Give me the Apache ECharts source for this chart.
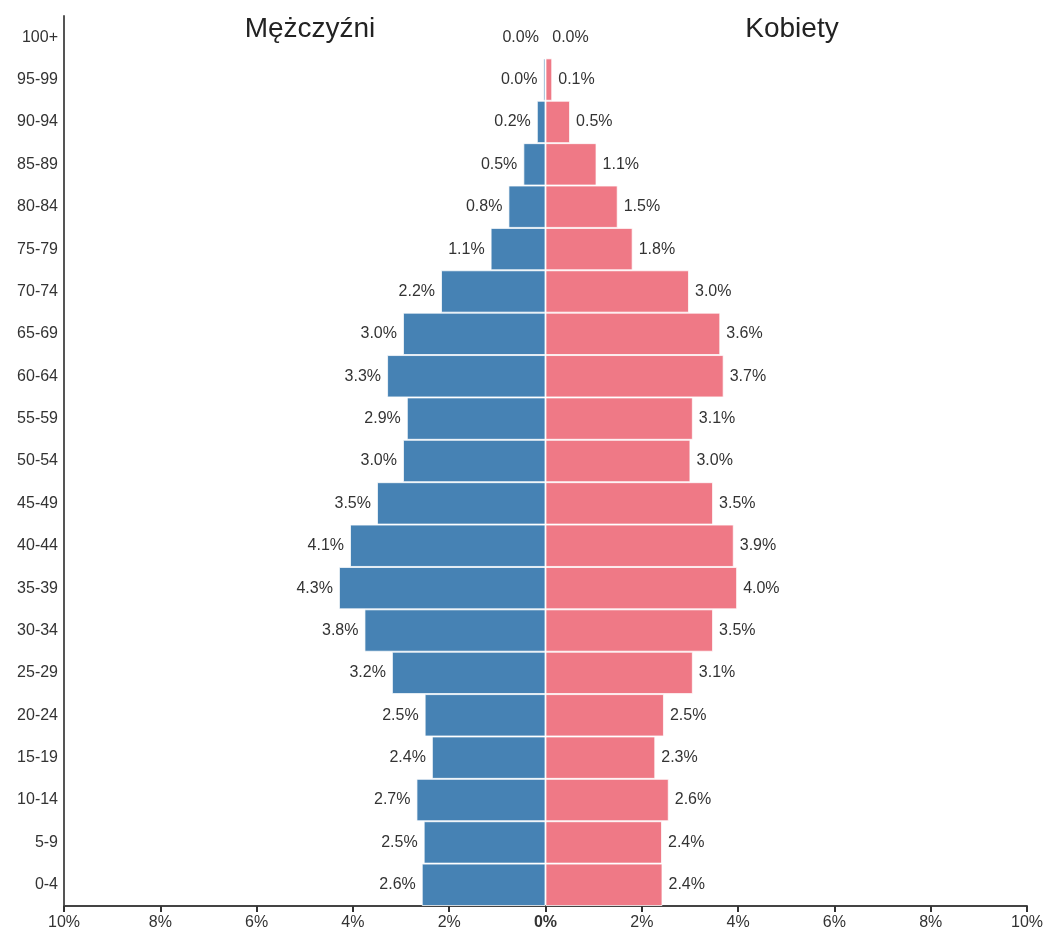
<!DOCTYPE html>
<html>
<head>
<meta charset="utf-8">
<script src="https://cdn.jsdelivr.net/npm/echarts@6/dist/echarts.min.js"></script>
<style>html,body{margin:0;padding:0;background:#fff}#c{width:1046px;height:934px}</style>
</head>
<body>
<div id="c"></div>
<script>
var categories = ['0-4','5-9','10-14','15-19','20-24','25-29','30-34','35-39','40-44','45-49','50-54','55-59','60-64','65-69','70-74','75-79','80-84','85-89','90-94','95-99','100+'];
var male = [2.57,2.53,2.68,2.36,2.51,3.19,3.76,4.29,4.06,3.50,2.96,2.88,3.29,2.96,2.17,1.14,0.77,0.46,0.18,0.044,0.004];
var female = [2.43,2.42,2.56,2.28,2.46,3.06,3.48,3.98,3.91,3.48,3.01,3.06,3.70,3.63,2.98,1.81,1.50,1.06,0.51,0.14,0.01];
var xTicks = [-10,-8,-6,-4,-2,0,2,4,6,8,10];
var titles = ['Mężczyźni','Kobiety'];

var FONT = 'Liberation Sans, Arial, sans-serif';
var chart = echarts.init(document.getElementById('c'), null, {renderer:'canvas'});
function fmt(v){ return Math.abs(v).toFixed(1) + '%'; }
chart.setOption({
  animation: false,
  textStyle: {fontFamily: FONT},
  title: [
    {text: titles[0], left: 305, top: 10, textAlign: 'center', textStyle:{fontFamily:FONT, fontSize:28, fontWeight:'normal', color:'#222'}},
    {text: titles[1], left: 787, top: 10, textAlign: 'center', textStyle:{fontFamily:FONT, fontSize:28, fontWeight:'normal', color:'#222'}}
  ],
  grid: {left: 64, right: 18, top: 16, bottom: 28, containLabel: false},
  xAxis: {
    type: 'value', min: xTicks[0], max: xTicks[xTicks.length-1], interval: 2,
    axisLine: {show: true, lineStyle: {color: '#444', width: 2}},
    axisTick: {show: true, length: 6, lineStyle: {color: '#333', width: 2}},
    splitLine: {show: false},
    axisLabel: {
      color: '#333', fontSize: 16, margin: 9, fontFamily: FONT,
      formatter: function(v){ return v === 0 ? '{b|0%}' : Math.abs(v) + '%'; },
      rich: {b: {fontWeight: 'bold', fontSize: 16, color: '#333', fontFamily: FONT}}
    }
  },
  yAxis: {
    type: 'category', data: categories,
    axisLine: {show: true, onZero: false, lineStyle: {color: '#555', width: 2}},
    axisTick: {show: false},
    axisLabel: {color: '#333', fontSize: 16, margin: 6, fontFamily: FONT}
  },
  series: [
    {
      name: titles[0], type: 'bar', stack: 'p',
      data: male.map(function(v){ return -v; }),
      barCategoryGap: '0%',
      itemStyle: {color: '#4682b4', borderColor: 'rgba(255,255,255,0.75)', borderWidth: 1},
      label: {show: true, position: 'left', distance: 6, color: '#333', fontSize: 16, fontFamily: FONT, formatter: function(p){ return fmt(p.value); }}
    },
    {
      name: titles[1], type: 'bar', stack: 'p',
      data: female,
      barCategoryGap: '0%',
      itemStyle: {color: '#ef7986', borderColor: 'rgba(255,255,255,0.75)', borderWidth: 1},
      label: {show: true, position: 'right', distance: 6, color: '#333', fontSize: 16, fontFamily: FONT, formatter: function(p){ return fmt(p.value); }}
    }
  ]
});
</script>
</body>
</html>
